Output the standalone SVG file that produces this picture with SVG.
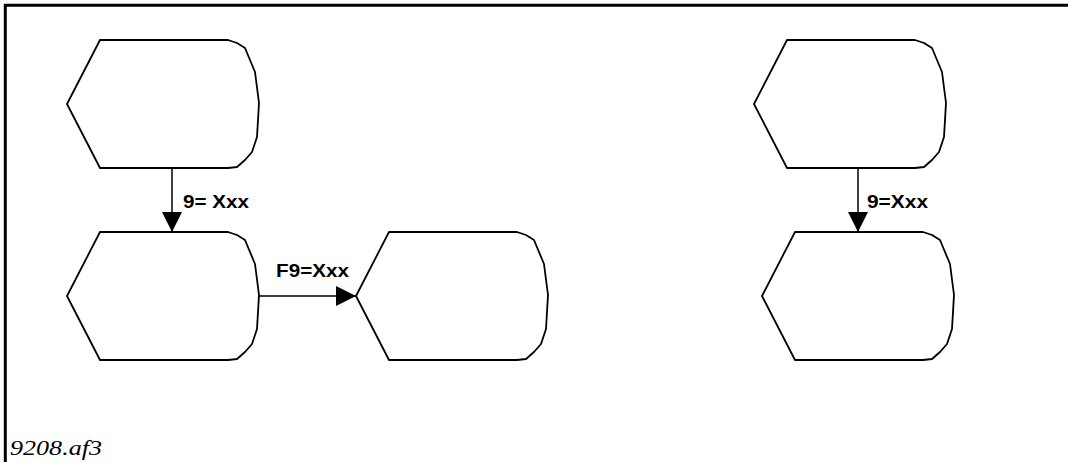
<svg xmlns="http://www.w3.org/2000/svg" width="1068" height="462" viewBox="0 0 1068 462">
<style>
.shape{fill:#fff;stroke:#000;stroke-width:1.8;stroke-linejoin:round}
.conn{fill:none;stroke:#000;stroke-width:1.5}
.lbl{font-family:"Liberation Sans",Arial,sans-serif;font-weight:bold;font-size:17.5px;fill:#000}
.foot{font-family:"Liberation Serif","Times New Roman",serif;font-style:italic;font-size:21px;fill:#000}
.frame{stroke:#000;stroke-width:3;fill:none}
</style>
<defs>
<path id="disp" d="M0,0 L33,-64 L161,-64 L170,-61 L178,-56 L188,-32 L192,-1 L190,33 L185,48 L178,56 L170,63 L161,64 L33,64 Z"/>
<marker id="arr" markerUnits="userSpaceOnUse" markerWidth="20" markerHeight="20" refX="20" refY="10" orient="auto">
<path d="M0,0 L20,10 L0,20 Z" fill="#000"/>
</marker>
</defs>
<rect width="1068" height="462" fill="#fff"/>
<path class="frame" d="M5.3,462 L5.3,5.3 L1068,5.3"/>
<g id="n1"><use href="#disp" class="shape" transform="translate(67,104)"/></g>
<g id="n2"><use href="#disp" class="shape" transform="translate(67,296)"/></g>
<g id="n3"><use href="#disp" class="shape" transform="translate(356,296)"/></g>
<g id="n4"><use href="#disp" class="shape" transform="translate(754,104)"/></g>
<g id="n5"><use href="#disp" class="shape" transform="translate(762,296)"/></g>
<g id="connectors">
<line class="conn" x1="172" y1="168" x2="172" y2="232" marker-end="url(#arr)"/>
<line class="conn" x1="259" y1="296" x2="356" y2="296" marker-end="url(#arr)"/>
<line class="conn" x1="858" y1="168" x2="858" y2="232" marker-end="url(#arr)"/>
<text class="lbl" x="183" y="208" textLength="66" lengthAdjust="spacingAndGlyphs">9= Xxx</text>
<text class="lbl" x="276" y="277" textLength="73" lengthAdjust="spacingAndGlyphs">F9=Xxx</text>
<text class="lbl" x="867" y="208" textLength="61" lengthAdjust="spacingAndGlyphs">9=Xxx</text>
</g>
<text class="foot" x="10" y="455" textLength="92" lengthAdjust="spacingAndGlyphs">9208.af3</text>
</svg>
